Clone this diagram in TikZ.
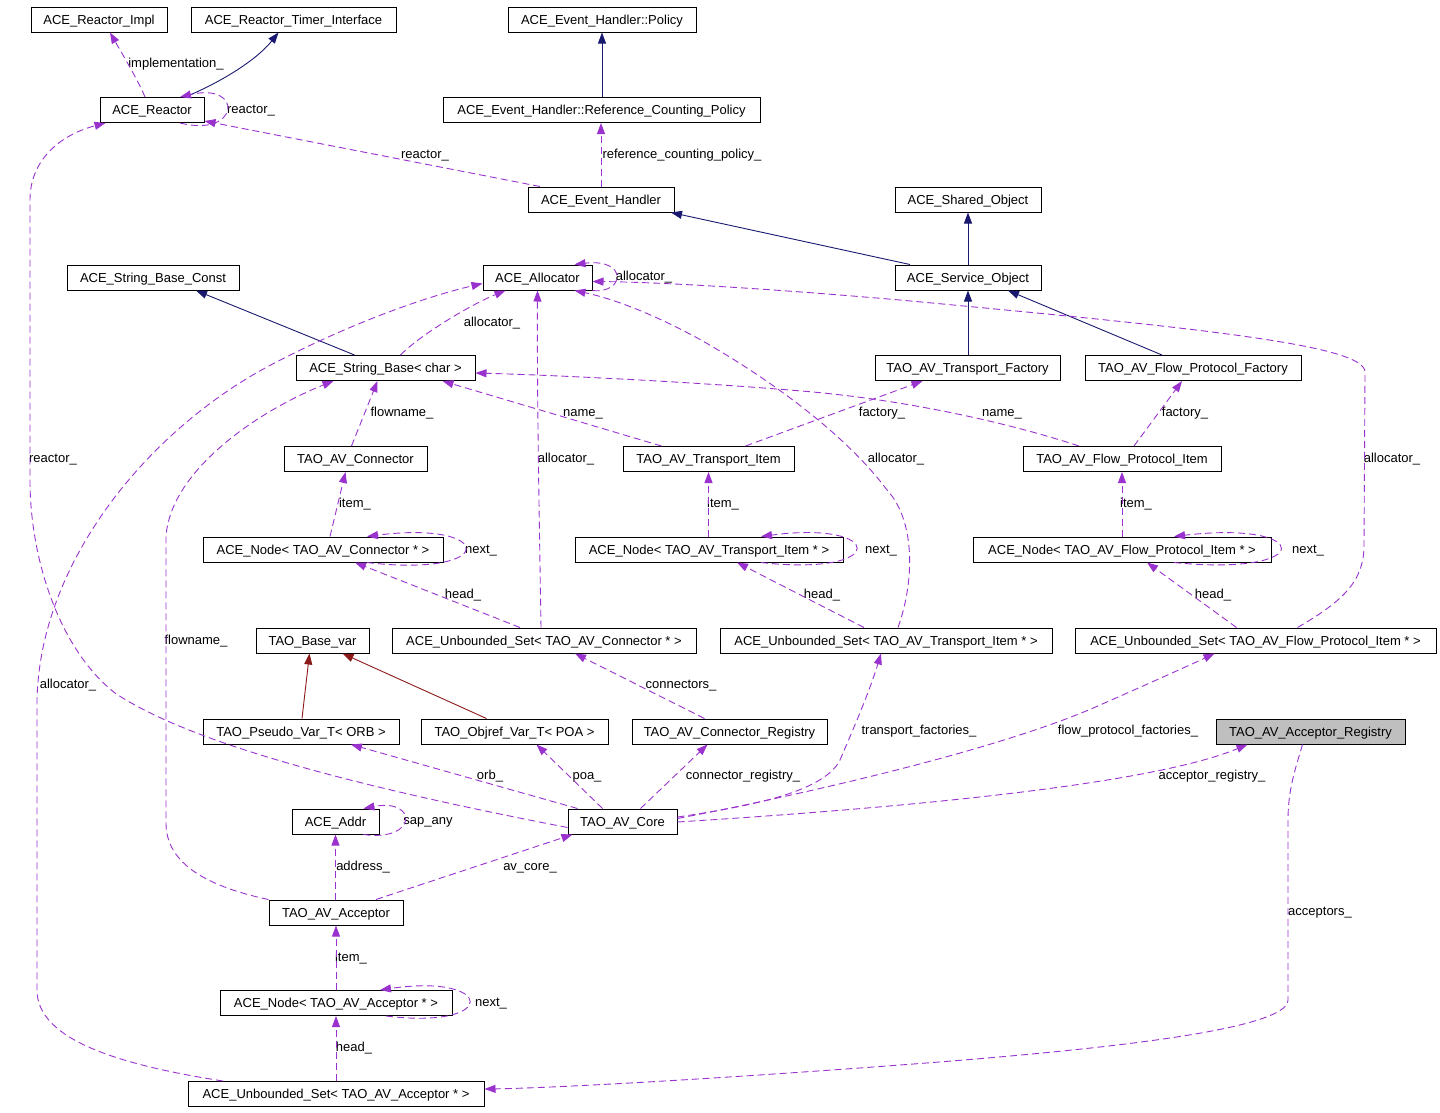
\documentclass[tikz,border=0pt]{standalone}
\usepackage{fontspec}
\setmainfont{Liberation Sans}
\usetikzlibrary{arrows.meta}
\definecolor{depc}{HTML}{9A32CD}
\definecolor{inhc}{HTML}{191970}
\definecolor{tmplc}{HTML}{8B1A1A}
\definecolor{regfill}{HTML}{BFBFBF}
\newcommand{\dfont}{\fontsize{13}{15}\selectfont}
\begin{document}
\begin{tikzpicture}[x=1pt,y=-1pt,
  box/.style={draw=black, line width=1pt, minimum height=25pt, inner sep=0pt, font=\dfont, text height=11pt, text depth=2pt},
  lbl/.style={inner sep=0pt, font=\dfont, text height=11pt, text depth=2pt},
  dep/.style={draw=depc, line width=0.9pt, dash pattern=on 7pt off 4pt, -{Triangle[length=11pt,width=8pt]}},
  inh/.style={draw=inhc, line width=0.9pt, -{Triangle[length=11pt,width=8pt]}},
  tmpl/.style={draw=tmplc, line width=0.9pt, -{Triangle[length=11pt,width=8pt]}}]
\useasboundingbox (0,0) rectangle (1440,1112);
% nodes
\node[box, minimum width=136pt] (impl) at (99,19.5) {ACE\_Reactor\_Impl};
\node[box, minimum width=205pt] (timer) at (293.5,19.5) {ACE\_Reactor\_Timer\_Interface};
\node[box, minimum width=188pt] (policy) at (602,19.5) {ACE\_Event\_Handler::Policy};
\node[box, minimum width=104pt] (reactor) at (152,110) {ACE\_Reactor};
\node[box, minimum width=317pt] (rcp) at (601.5,110) {ACE\_Event\_Handler::Reference\_Counting\_Policy};
\node[box, minimum width=146pt] (eh) at (601,199.5) {ACE\_Event\_Handler};
\node[box, minimum width=146pt] (shared) at (968,199.5) {ACE\_Shared\_Object};
\node[box, minimum width=172pt] (sbc) at (153,277.5) {ACE\_String\_Base\_Const};
\node[box, minimum width=109pt] (alloc) at (537.5,277.5) {ACE\_Allocator};
\node[box, minimum width=146pt] (svc) at (968,277.5) {ACE\_Service\_Object};
\node[box, minimum width=179pt] (sb) at (385.5,368) {ACE\_String\_Base< char >};
\node[box, minimum width=185pt] (tfac) at (967.5,368) {TAO\_AV\_Transport\_Factory};
\node[box, minimum width=216pt] (ffac) at (1193,368) {TAO\_AV\_Flow\_Protocol\_Factory};
\node[box, minimum width=143pt] (conn) at (355.5,459) {TAO\_AV\_Connector};
\node[box, minimum width=171pt] (titem) at (708.5,459) {TAO\_AV\_Transport\_Item};
\node[box, minimum width=198pt] (fitem) at (1122,459) {TAO\_AV\_Flow\_Protocol\_Item};
\node[box, minimum width=240pt] (nconn) at (323,549.5) {ACE\_Node< TAO\_AV\_Connector * >};
\node[box, minimum width=268pt] (ntrans) at (709,549.5) {ACE\_Node< TAO\_AV\_Transport\_Item * >};
\node[box, minimum width=298pt] (nflow) at (1122,549.5) {ACE\_Node< TAO\_AV\_Flow\_Protocol\_Item * >};
\node[box, minimum width=113pt] (basevar) at (312.5,640.5) {TAO\_Base\_var};
\node[box, minimum width=304pt] (usconn) at (544,640.5) {ACE\_Unbounded\_Set< TAO\_AV\_Connector * >};
\node[box, minimum width=332pt] (ustrans) at (886,640.5) {ACE\_Unbounded\_Set< TAO\_AV\_Transport\_Item * >};
\node[box, minimum width=361pt] (usflow) at (1255.5,640.5) {ACE\_Unbounded\_Set< TAO\_AV\_Flow\_Protocol\_Item * >};
\node[box, minimum width=196pt] (pseudo) at (301,731.5) {TAO\_Pseudo\_Var\_T< ORB >};
\node[box, minimum width=187pt] (objref) at (514.5,731.5) {TAO\_Objref\_Var\_T< POA >};
\node[box, minimum width=195pt] (creg) at (729.5,731.5) {TAO\_AV\_Connector\_Registry};
\node[box, minimum width=189pt, fill=regfill] (areg) at (1310.5,731.5) {TAO\_AV\_Acceptor\_Registry};
\node[box, minimum width=87pt] (addr) at (335.5,821.5) {ACE\_Addr};
\node[box, minimum width=109pt] (core) at (622.5,821.5) {TAO\_AV\_Core};
\node[box, minimum width=134pt] (acc) at (336,912.5) {TAO\_AV\_Acceptor};
\node[box, minimum width=232pt] (nacc) at (336,1003) {ACE\_Node< TAO\_AV\_Acceptor * >};
\node[box, minimum width=296pt] (usacc) at (336,1094) {ACE\_Unbounded\_Set< TAO\_AV\_Acceptor * >};
% labels
\node[lbl] (l1) at (176,63) {implementation\_};
\node[lbl] (l2) at (251,109) {reactor\_};
\node[lbl] (l3) at (425,154) {reactor\_};
\node[lbl] (l4) at (682,154) {reference\_counting\_policy\_};
\node[lbl] (l5) at (492,322) {allocator\_};
\node[lbl] (l6) at (644,276) {allocator\_};
\node[lbl] (l7) at (402,412) {flowname\_};
\node[lbl] (l8) at (583,412) {name\_};
\node[lbl] (l9) at (882,412) {factory\_};
\node[lbl] (l10) at (1002,412) {name\_};
\node[lbl] (l11) at (1185,412) {factory\_};
\node[lbl] (l12) at (53,458) {reactor\_};
\node[lbl] (l13) at (566,458) {allocator\_};
\node[lbl] (l14) at (896,458) {allocator\_};
\node[lbl] (l15) at (1392,458) {allocator\_};
\node[lbl] (l16) at (355,503) {item\_};
\node[lbl] (l17) at (723,503) {item\_};
\node[lbl] (l18) at (1136,503) {item\_};
\node[lbl] (l19) at (481,549) {next\_};
\node[lbl] (l20) at (881,549) {next\_};
\node[lbl] (l21) at (1308,549) {next\_};
\node[lbl] (l22) at (463,594) {head\_};
\node[lbl] (l23) at (822,594) {head\_};
\node[lbl] (l24) at (1213,594) {head\_};
\node[lbl] (l25) at (196,640) {flowname\_};
\node[lbl] (l26) at (68,684) {allocator\_};
\node[lbl] (l27) at (681,684) {connectors\_};
\node[lbl] (l28) at (919,730) {transport\_factories\_};
\node[lbl] (l29) at (1128,730) {flow\_protocol\_factories\_};
\node[lbl] (l30) at (490,775) {orb\_};
\node[lbl] (l31) at (587,775) {poa\_};
\node[lbl] (l32) at (743,775) {connector\_registry\_};
\node[lbl] (l33) at (1212,775) {acceptor\_registry\_};
\node[lbl] (l34) at (428,820) {sap\_any};
\node[lbl] (l35) at (363,866) {address\_};
\node[lbl] (l36) at (530,866) {av\_core\_};
\node[lbl] (l37) at (1320,911) {acceptors\_};
\node[lbl] (l38) at (351,957) {item\_};
\node[lbl] (l39) at (491,1002) {next\_};
\node[lbl] (l40) at (354,1047) {head\_};
% inheritance edges
\draw[inh] ([xshift=33]reactor.north) .. controls (215,85) and (255,62) .. ([xshift=-15]timer.south);
\draw[inh] (policy.south |- rcp.north) -- (policy.south);
\draw[inh] ([xshift=-58]svc.north) -- ([xshift=70]eh.south);
\draw[inh] (svc.north) -- (shared.south);
\draw[inh] (svc.south |- tfac.north) -- (svc.south);
\draw[inh] ([xshift=-31]ffac.north) -- ([xshift=40]svc.south);
\draw[inh] ([xshift=-31]sb.north) -- ([xshift=43]sbc.south);
\draw[tmpl] ([xshift=1]pseudo.north) -- ([xshift=-3]basevar.south);
\draw[tmpl] ([xshift=-28]objref.north) -- ([xshift=30]basevar.south);
% usage edges
\draw[dep] ([xshift=-7]reactor.north) .. controls (138,80) and (120,50) .. ([xshift=11]impl.south);
\draw[dep] ([xshift=28]reactor.south) .. controls (240,138) and (244,82) .. ([xshift=28]reactor.north);
\draw[dep] ([xshift=-61]eh.north) -- ([yshift=2]reactor.south east);
\draw[dep] (eh.north) -- (eh.north |- rcp.south);
\draw[dep] ([xshift=15]sb.north) .. controls (420,335) and (470,305) .. ([xshift=-32]alloc.south);
\draw[dep] (alloc.south east) .. controls (625,294) and (628,258) .. ([xshift=37]alloc.north);
\draw[dep] ([xshift=42]usflow.north) .. controls (1345,600) and (1364,580) .. (1364,545) -- (1365,372)
  .. controls (1365,345) and (1200,328) .. (900,300) .. controls (750,287) and (650,282) .. ([yshift=-4]alloc.east);
\draw[dep] ([xshift=12]ustrans.north) .. controls (915,580) and (915,520) .. (887,490)
  .. controls (850,440) and (780,385) .. (701,340) .. controls (650,312) and (610,298) .. ([xshift=37]alloc.south);
\draw[dep] ([xshift=-3]usconn.north) .. controls (539,500) and (537,400) .. (alloc.south);
\draw[dep] ([xshift=-113]usacc.north) .. controls (120,1065) and (37,1040) .. (37,990) -- (37,700)
  .. controls (40,560) and (150,430) .. (267,367) .. controls (340,328) and (420,298) .. ([yshift=-6]alloc.west);
\draw[dep] ([yshift=-6]core.west) .. controls (400,795) and (200,750) .. (115,693)
  .. controls (60,650) and (30,560) .. (30,480) -- (30,200) .. controls (30,160) and (60,135) .. ([xshift=6]reactor.south west);
\draw[dep] (acc.north west) .. controls (200,885) and (166,860) .. (166,823) -- (166,537)
  .. controls (170,470) and (260,410) .. ([xshift=-52]sb.south);
\draw[dep] ([xshift=-4]conn.north) -- ([xshift=-8]sb.south);
\draw[dep] ([xshift=-47]titem.north) -- ([xshift=57]sb.south);
\draw[dep] ([xshift=-43]fitem.north) .. controls (1000,420) and (900,400) .. (813,392)
  .. controls (700,382) and (550,375) .. ([yshift=-5]sb.east);
\draw[dep] ([xshift=37]titem.north) -- ([xshift=-45]tfac.south);
\draw[dep] ([xshift=12]fitem.north) -- ([xshift=-11]ffac.south);
\draw[dep] ([xshift=7]nconn.north) -- ([xshift=-10]conn.south);
\draw[dep] (titem.south |- ntrans.north) -- (titem.south);
\draw[dep] (nflow.north) -- (fitem.south);
\draw[dep] ([xshift=44]nconn.south) .. controls (500,578) and (495,520) .. ([xshift=44]nconn.north);
\draw[dep] ([xshift=52]ntrans.south) .. controls (890,577) and (885,520) .. ([xshift=52]ntrans.north);
\draw[dep] ([xshift=52]nflow.south) .. controls (1318,577) and (1313,520) .. ([xshift=52]nflow.north);
\draw[dep] ([xshift=50]nacc.south) .. controls (500,1030) and (495,973) .. ([xshift=44]nacc.north);
\draw[dep] ([xshift=28]addr.south) .. controls (418,842) and (418,798) .. ([xshift=28]addr.north);
\draw[dep] ([xshift=-24]usconn.north) -- ([xshift=32]nconn.south);
\draw[dep] ([xshift=-22]ustrans.north) -- ([xshift=28]ntrans.south);
\draw[dep] ([xshift=-19]usflow.north) -- ([xshift=25]nflow.south);
\draw[dep] ([xshift=-25]creg.north) -- ([xshift=31]usconn.south);
\draw[dep] ([xshift=-45]core.north) -- ([xshift=50]pseudo.south);
\draw[dep] ([xshift=-20]core.north) -- ([xshift=22]objref.south);
\draw[dep] ([xshift=18]core.north) -- ([xshift=-22]creg.south);
\draw[dep] ([yshift=4.5]core.east) .. controls (760,805) and (825,790) .. (840,760)
  .. controls (855,725) and (870,690) .. ([xshift=-5]ustrans.south);
\draw[dep] ([yshift=3]core.east) .. controls (800,795) and (1000,750) .. (1100,705)
  .. controls (1150,683) and (1190,665) .. ([xshift=-41]usflow.south);
\draw[dep] ([yshift=-0.5]core.east) .. controls (900,808) and (1150,785) .. ([xshift=-63]areg.south);
\draw[dep] (addr.south |- acc.north) -- (addr.south);
\draw[dep] ([xshift=40]acc.north) -- ([xshift=-50]core.south);
\draw[dep] (acc.south |- nacc.north) -- (acc.south);
\draw[dep] (usacc.north) -- (nacc.south);
\draw[dep] ([xshift=-8]areg.south) .. controls (1295,770) and (1288,790) .. (1288,820) -- (1288,1000)
  .. controls (1288,1030) and (1100,1050) .. (900,1065) .. controls (700,1080) and (550,1088) .. ([yshift=5]usacc.east);
\end{tikzpicture}
\end{document}
